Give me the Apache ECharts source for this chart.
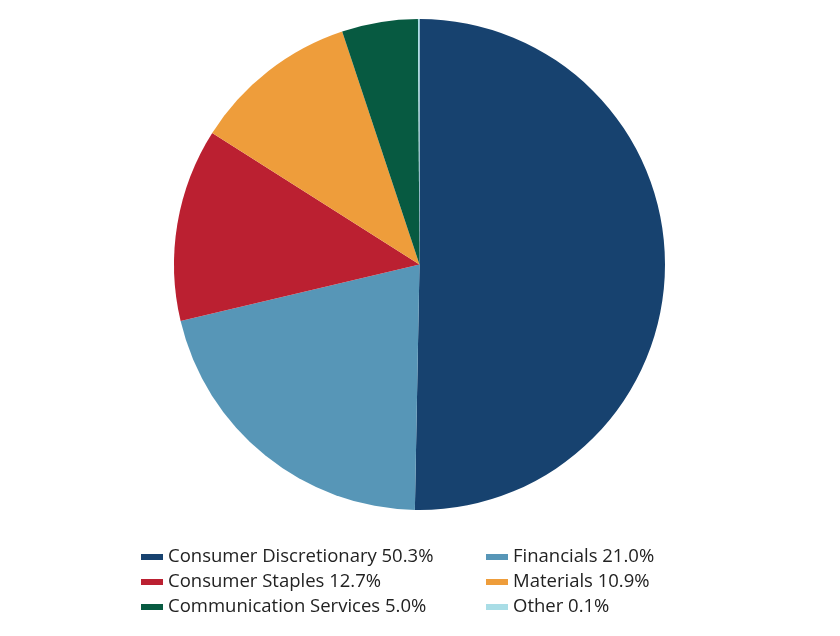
<!DOCTYPE html>
<html>
<head>
<meta charset="utf-8">
<script src="https://cdn.jsdelivr.net/npm/echarts@6/dist/echarts.min.js"></script>
<style>html,body{margin:0;padding:0;background:#fff}#c{width:840px;height:636px}</style>
</head>
<body>
<div id="c"></div>
<script>
const categories = ['Consumer Discretionary', 'Financials', 'Consumer Staples', 'Materials', 'Communication Services', 'Other'];
const values = [50.3, 21.0, 12.7, 10.9, 5.0, 0.1];
const colors = ['#17426f', '#5796b7', '#bb2031', '#ee9d3b', '#075a41', '#a9dde6'];
const leftLegend = ['Consumer Discretionary', 'Consumer Staples', 'Communication Services'];
const rightLegend = ['Financials', 'Materials', 'Other'];

const valueOf = {};
categories.forEach((c, i) => valueOf[c] = values[i]);

const chart = echarts.init(document.getElementById('c'), null, {renderer: 'canvas'});
const legendCommon = {
  orient: 'vertical',
  itemWidth: 22,
  itemHeight: 6,
  itemGap: 5,
  icon: 'rect',
  selectedMode: false,
  textStyle: {fontFamily: 'Open Sans', fontSize: 18.5, color: '#222222', lineHeight: 20, padding: 0},
  formatter: n => n + ' ' + valueOf[n].toFixed(1) + '%'
};
chart.setOption({
  animation: false,
  color: colors,
  legend: [
    Object.assign({}, legendCommon, {left: 136, top: 542, data: leftLegend}),
    Object.assign({}, legendCommon, {left: 481, top: 542, data: rightLegend})
  ],
  series: [{
    type: 'pie',
    center: [419.5, 264.5],
    radius: 245.5,
    startAngle: 90,
    clockwise: true,
    label: {show: false},
    labelLine: {show: false},
    emphasis: {disabled: true},
    itemStyle: {borderWidth: 0},
    data: categories.map((c, i) => ({name: c, value: values[i]}))
  }]
});
</script>
</body>
</html>
